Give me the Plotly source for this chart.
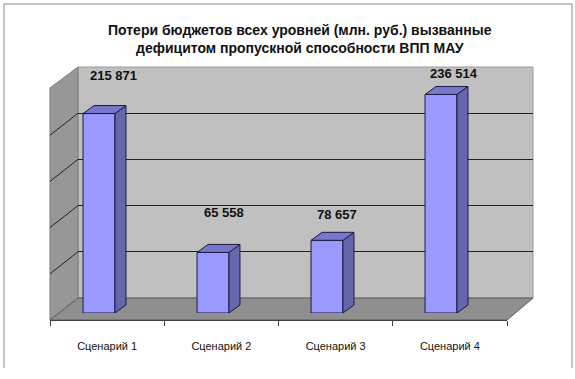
import plotly.graph_objects as go

# ---- data ----
categories = ["Сценарий 1", "Сценарий 2", "Сценарий 3", "Сценарий 4"]
values = [215871, 65558, 78657, 236514]
value_labels = ["215 871", "65 558", "78 657", "236 514"]
grid_vals = [0, 50000, 100000, 150000, 200000]
title_lines = ["Потери бюджетов всех уровней (млн. руб.) вызванные",
               "дефицитом пропускной способности ВПП МАУ"]

# ---- geometry helpers (pixels -> paper) ----
W, H = 575, 379
def px(x):
    return x / W
def py(y):
    return 1 - y / H

Y_MAX = 250000
FONT = "Arial, Liberation Sans, sans-serif"
BAR_W = 0.28
DEPTH_DX = 11 / 114          # x2 units
DEPTH_DY = 8 * Y_MAX / 231   # y2 units
OUTLINE = "#1a1a40"

fig = go.Figure()

idx = list(range(len(categories)))

# front faces
fig.add_trace(go.Bar(x=idx, y=values, width=BAR_W, xaxis="x2", yaxis="y2",
                     marker=dict(color="#9999FF", line=dict(color=OUTLINE, width=1)),
                     hoverinfo="skip", showlegend=False))

# side and top faces
for i, v in zip(idx, values):
    r = i + BAR_W / 2
    l = i - BAR_W / 2
    fig.add_trace(go.Scatter(
        x=[r, r + DEPTH_DX, r + DEPTH_DX, r, r],
        y=[0, DEPTH_DY, v + DEPTH_DY, v, 0],
        xaxis="x2", yaxis="y2", mode="lines", fill="toself",
        fillcolor="#6666AA", line=dict(color=OUTLINE, width=1),
        hoverinfo="skip", showlegend=False))
    fig.add_trace(go.Scatter(
        x=[l, l + DEPTH_DX, r + DEPTH_DX, r, l],
        y=[v, v + DEPTH_DY, v + DEPTH_DY, v, v],
        xaxis="x2", yaxis="y2", mode="lines", fill="toself",
        fillcolor="#7777CC", line=dict(color=OUTLINE, width=1),
        hoverinfo="skip", showlegend=False))

# invisible trace for the category (front floor) axis
fig.add_trace(go.Scatter(x=categories, y=[None] * len(categories), xaxis="x3", yaxis="y3",
                         mode="markers", showlegend=False, hoverinfo="skip"))

shapes = []
# outer frame
shapes.append(dict(type="path", xref="paper", yref="paper",
                   path=f"M{px(4)},{py(368)} L{px(4)},{py(4)} L{px(572)},{py(4)} L{px(572)},{py(368)}",
                   line=dict(color="#8a8a8a", width=1), layer="below"))
# back wall
shapes.append(dict(type="rect", xref="paper", yref="paper",
                   x0=px(78), x1=px(533), y0=py(298), y1=py(67),
                   fillcolor="#C0C0C0", line=dict(color="#9a9a9a", width=1), layer="below"))
# side wall
shapes.append(dict(type="path", xref="paper", yref="paper",
                   path=f"M{px(50)},{py(88)} L{px(78)},{py(67)} L{px(78)},{py(298)} L{px(50)},{py(320)} Z",
                   fillcolor="#979797", line=dict(color="#7a7a7a", width=1), layer="below"))
# floor
shapes.append(dict(type="path", xref="paper", yref="paper",
                   path=f"M{px(78)},{py(298)} L{px(533)},{py(298)} L{px(507)},{py(320)} L{px(50)},{py(320)} Z",
                   fillcolor="#8F8F8F", line=dict(color="#5a5a5a", width=1), layer="below"))
# side-wall gridlines (continuation of back-wall gridlines)
for g in grid_vals:
    shapes.append(dict(type="line", xref="paper", yref="y", ysizemode="pixel", yanchor=g,
                       x0=px(78), x1=px(50), y0=0, y1=-22,
                       line=dict(color="#202020", width=1), layer="between"))

annotations = [dict(xref="paper", yref="paper", x=px(300), y=py(38.5),
                    text="<br>".join(title_lines), showarrow=False,
                    font=dict(family=FONT, size=14, color="#111111", weight="bold"),
                    xanchor="center", yanchor="middle", align="center")]

label_dx = [14, 11, 10, 13]
label_dy = [38, 40, 26, 21]
for i, v, t, dx, dy in zip(idx, values, value_labels, label_dx, label_dy):
    annotations.append(dict(xref="x2", yref="y2", x=i, y=v, text=t, showarrow=False,
                            xshift=dx, yshift=dy, xanchor="center", yanchor="middle",
                            font=dict(family=FONT, size=13, color="#111111", weight="bold")))

fig.update_layout(
    width=W, height=H, margin=dict(l=0, r=0, t=0, b=0),
    paper_bgcolor="white", plot_bgcolor="rgba(0,0,0,0)",
    shapes=shapes, annotations=annotations, showlegend=False,
    xaxis=dict(domain=[px(78), px(533)], range=[0, 1], visible=False, fixedrange=True),
    yaxis=dict(domain=[py(298), py(67)], range=[0, Y_MAX], tickmode="array", tickvals=grid_vals,
               showgrid=True, gridcolor="#202020", gridwidth=1, showticklabels=False,
               ticks="", zeroline=False, showline=False, fixedrange=True),
    xaxis2=dict(domain=[px(42), px(498)], range=[-0.5, 3.5], anchor="y2", visible=False, fixedrange=True),
    yaxis2=dict(domain=[py(313), py(82)], range=[0, Y_MAX], anchor="x2", visible=False, fixedrange=True),
    xaxis3=dict(domain=[px(50), px(507)], anchor="y3", type="category", categoryorder="array",
                categoryarray=categories, range=[-0.5, 3.5], tickson="boundaries",
                ticks="outside", ticklen=5, tickcolor="#404040", showline=True, linecolor="#404040",
                linewidth=1, showgrid=False, zeroline=False, ticklabelstandoff=16,
                tickfont=dict(family=FONT, size=11, color="#111111"), fixedrange=True),
    yaxis3=dict(domain=[py(320), py(300)], anchor="x3", visible=False, range=[0, 1], fixedrange=True),
)

fig.write_html("out.html", config={"displayModeBar": False},
               post_script="document.body.style.margin='0';")
